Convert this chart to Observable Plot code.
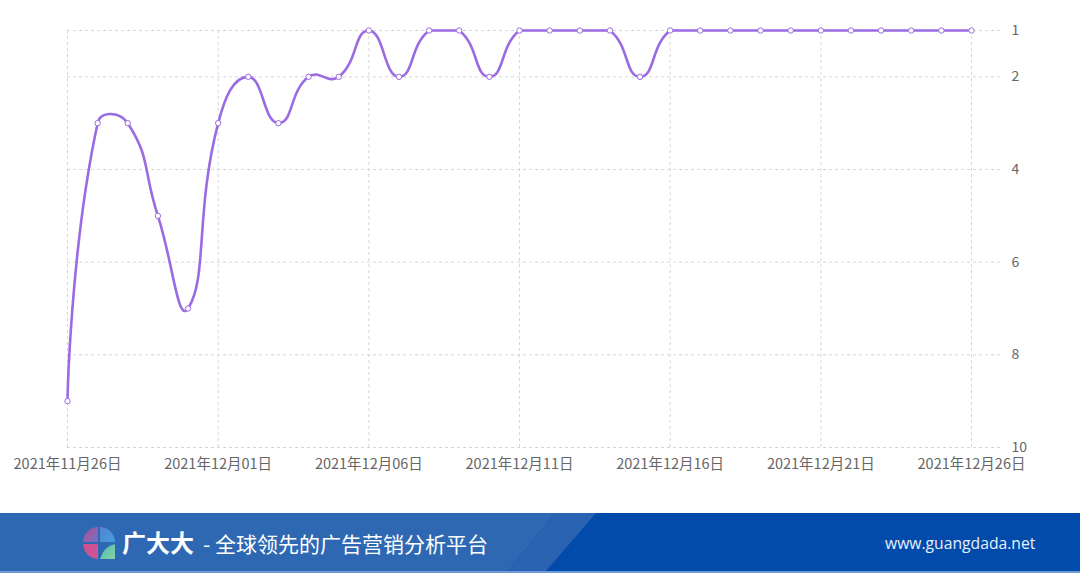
<!DOCTYPE html>
<html>
<head>
<meta charset="utf-8">
<script src="https://cdn.jsdelivr.net/npm/d3@7"></script>
<script src="https://cdn.jsdelivr.net/npm/@observablehq/plot@0.6"></script>
<style>
  body { margin: 0; background: #fff; }
  #wrap { position: relative; width: 1080px; height: 573px; overflow: hidden; font-family: "Noto Sans CJK SC", "Noto Sans", sans-serif; }
  #chart { position: absolute; left: 0; top: 0; }
  #banner { position: absolute; left: 0; top: 513px; width: 1080px; height: 60px; }
</style>
</head>
<body>
<div id="wrap">
  <div id="chart"></div>
  <div id="banner">
    <svg width="1080" height="60" xmlns="http://www.w3.org/2000/svg">
      <defs>
        <linearGradient id="gTL" x1="0" y1="0" x2="1" y2="1">
          <stop offset="0" stop-color="#c04b8e"/><stop offset="1" stop-color="#6a74c4"/>
        </linearGradient>
        <linearGradient id="gTR" x1="0" y1="0" x2="1" y2="1">
          <stop offset="0" stop-color="#5a7fd0"/><stop offset="1" stop-color="#3fa0de"/>
        </linearGradient>
        <linearGradient id="gBL" x1="0" y1="0" x2="1" y2="1">
          <stop offset="0" stop-color="#d24c8c"/><stop offset="1" stop-color="#c85a9a"/>
        </linearGradient>
        <linearGradient id="gBR" x1="0" y1="0" x2="1" y2="1">
          <stop offset="0" stop-color="#4fb9b0"/><stop offset="1" stop-color="#86d4a4"/>
        </linearGradient>
      </defs>
      <rect x="0" y="0" width="1080" height="60" fill="#034bab"/>
      <polygon points="0,0 555,0 508,58 0,58" fill="#2e68b3"/>
      <polygon points="555,0 596,0 546,58 508,58" fill="#2a63b1"/>
      <rect x="0" y="58" width="1080" height="2" fill="#6f9ad6"/>
      <g>
        <path d="M98,29 L83,29 A15.5,15.5 0 0 1 98,14 Z" fill="url(#gTL)"/>
        <path d="M100,29 L100,14 A15.5,15.5 0 0 1 115,29 Z" fill="url(#gTR)"/>
        <path d="M98,31 L98,46 A15.5,15.5 0 0 1 83,31 Z" fill="url(#gBL)"/>
        <path d="M100,31 Q100,46 100,46 L115,46 L115,31 Q104,33 100,46 Z" fill="url(#gBR)"/>
      </g>
      <text x="122" y="39" fill="#ffffff" font-size="24" font-weight="bold" font-family="Noto Sans CJK SC">广大大</text>
      <text x="203" y="38.5" fill="#ffffff" font-size="21" font-family="Noto Sans CJK SC">- 全球领先的广告营销分析平台</text>
      <text x="885" y="36" fill="#e8f0fb" font-size="15.7" font-family="Open Sans, Noto Sans">www.guangdada.net</text>
    </svg>
  </div>
</div>
<script>
// ---- data ----
const dates = [
  "2021-11-26","2021-11-27","2021-11-28","2021-11-29","2021-11-30",
  "2021-12-01","2021-12-02","2021-12-03","2021-12-04","2021-12-05",
  "2021-12-06","2021-12-07","2021-12-08","2021-12-09","2021-12-10",
  "2021-12-11","2021-12-12","2021-12-13","2021-12-14","2021-12-15",
  "2021-12-16","2021-12-17","2021-12-18","2021-12-19","2021-12-20",
  "2021-12-21","2021-12-22","2021-12-23","2021-12-24","2021-12-25","2021-12-26"
];
const ranks = [
  9, 3, 3, 5, 7,
  3, 2, 3, 2, 2,
  1, 2, 1, 1, 2,
  1, 1, 1, 1, 2,
  1, 1, 1, 1, 1,
  1, 1, 1, 1, 1, 1
];
const xTickDates = ["2021-11-26","2021-12-01","2021-12-06","2021-12-11","2021-12-16","2021-12-21","2021-12-26"];
const yTicks = [1, 2, 4, 6, 8, 10];

const data = dates.map((d, i) => ({date: new Date(d), rank: ranks[i]}));
const xTicks = xTickDates.map(d => new Date(d));
const fmt = d3.utcFormat("%Y年%m月%d日");
const lineColor = "#9b6be3";

// ECharts-4-like smooth bezier curve (smooth = 0.5, constrained to data bbox)
function echartsSmooth(context) {
  let pts;
  const smooth = 0.5;
  return {
    areaStart() {}, areaEnd() {},
    lineStart() { pts = []; },
    point(x, y) { pts.push([+x, +y]); },
    lineEnd() {
      const n = pts.length;
      if (!n) return;
      let minX = Infinity, minY = Infinity, maxX = -Infinity, maxY = -Infinity;
      for (const [x, y] of pts) {
        if (x < minX) minX = x; if (x > maxX) maxX = x;
        if (y < minY) minY = y; if (y > maxY) maxY = y;
      }
      const clamp = c => [Math.min(Math.max(c[0], minX), maxX), Math.min(Math.max(c[1], minY), maxY)];
      context.moveTo(pts[0][0], pts[0][1]);
      let cp0 = [pts[0][0], pts[0][1]];
      for (let i = 1; i < n; i++) {
        const p = pts[i], prev = pts[i - 1], next = pts[i + 1];
        let cp1, ratio = 0.5, v = [0, 0];
        if (!next) {
          cp1 = [p[0], p[1]];
        } else {
          v = [next[0] - prev[0], next[1] - prev[1]];
          const l0 = Math.hypot(p[0] - prev[0], p[1] - prev[1]);
          const l1 = Math.hypot(next[0] - p[0], next[1] - p[1]);
          ratio = (l0 + l1) ? l1 / (l0 + l1) : 0.5;
          cp1 = [p[0] - v[0] * smooth * (1 - ratio), p[1] - v[1] * smooth * (1 - ratio)];
        }
        const a = clamp(cp0), b = clamp(cp1);
        context.bezierCurveTo(a[0], a[1], b[0], b[1], p[0], p[1]);
        cp0 = [p[0] + v[0] * smooth * ratio, p[1] + v[1] * smooth * ratio];
      }
    }
  };
}

const chart = Plot.plot({
  width: 1080,
  height: 513,
  marginTop: 30,
  marginBottom: 66,
  marginLeft: 67,
  marginRight: 109,
  style: {fontFamily: '"Noto Sans CJK SC", "Noto Sans", sans-serif', fontSize: "14.5px", color: "#666666", background: "transparent"},
  x: {type: "utc", domain: [data[0].date, data[data.length - 1].date]},
  y: {domain: [1, 10], reverse: true},
  marks: [
    Plot.ruleY(yTicks, {stroke: "#d6d6d6", strokeDasharray: "3,3", insetRight: -31}),
    Plot.ruleX(xTicks, {y1: 1, y2: 10, stroke: "#d6d6d6", strokeDasharray: "3,3"}),
    Plot.axisX({ticks: xTicks, tickFormat: fmt, tickSize: 0, tickPadding: 11, fill: "#666666", label: null}),
    Plot.axisY({anchor: "right", ticks: yTicks, tickSize: 0, tickPadding: 40, fill: "#666666", fontSize: 14, label: null}),
    Plot.line(data, {x: "date", y: "rank", curve: echartsSmooth, stroke: lineColor, strokeWidth: 2.6}),
    Plot.dot(data, {x: "date", y: "rank", r: 2.7, fill: "white", stroke: lineColor, strokeWidth: 1})
  ]
});
document.getElementById("chart").appendChild(chart);
</script>
</body>
</html>
